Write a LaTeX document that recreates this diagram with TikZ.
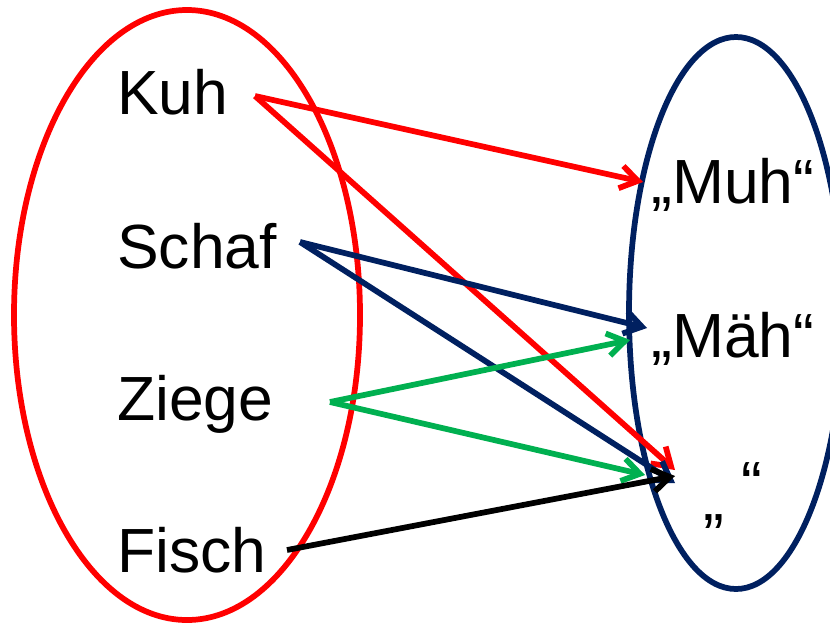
\documentclass[tikz,border=0pt]{standalone}
\usepackage{fontspec}
\setmainfont{Liberation Sans}
\usetikzlibrary{arrows.meta}
\definecolor{navy}{RGB}{0,32,96}
\definecolor{grn}{RGB}{0,176,80}
\begin{document}
\begin{tikzpicture}[x=0.75pt,y=-0.75pt,
  word/.style={anchor=base west,inner sep=0pt,font=\fontsize{46.8}{50}\selectfont},
  link/.style={line width=4.3pt,-{Straight Barb[length=13pt,width=17pt,line width=4.3pt]}}]
\useasboundingbox (0,0) rectangle (830,626);
\begin{scope}
\clip (0,0) rectangle (830,626);
\draw[red,line width=4.3pt] (187,315) ellipse [x radius=173,y radius=305];
\draw[navy,line width=4.3pt] (736,313) ellipse [x radius=107,y radius=276];
\end{scope}
\node[word] (kuh) at (117,114) {Kuh};
\node[word] (schaf) at (117,268) {Schaf};
\node[word] (ziege) at (117,420) {Ziege};
\node[word] (fisch) at (117,572) {Fisch};
\node[word] (muh) at (651,203) {„Muh“};
\node[word] (maeh) at (651,357) {„Mäh“};
\node[word] (q1) at (703,520) {„};
\node[word] (q2) at (741,505) {“};
\coordinate (kuhS) at (255,96);
\coordinate (schafS) at (300,242);
\coordinate (ziegeS) at (330,402);
\coordinate (fischS) at (287,550);
\coordinate (muhE) at (643,182);
\coordinate (maehE1) at (647,328);
\coordinate (maehE2) at (630,340);
\coordinate (leerR) at (675,470);
\coordinate (leerN) at (675,483);
\coordinate (leerG) at (645,475);
\coordinate (leerK) at (675,476);
\draw[link,red] (kuhS) -- (muhE);
\draw[link,red] (kuhS) -- (leerR);
\draw[link,navy] (schafS) -- (maehE1);
\draw[link,navy] (schafS) -- (leerN);
\draw[link,grn] (ziegeS) -- (maehE2);
\draw[link,grn] (ziegeS) -- (leerG);
\draw[link,black] (fischS) -- (leerK);
\end{tikzpicture}
\end{document}
